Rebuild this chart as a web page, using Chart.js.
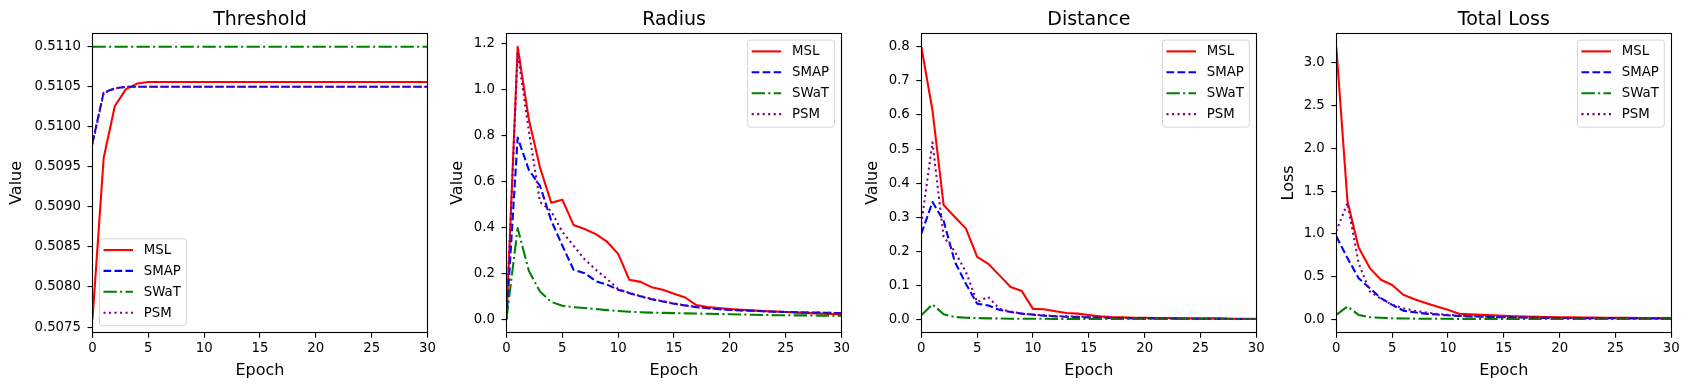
<!DOCTYPE html>
<html>
<head>
<meta charset="utf-8">
<script src="https://cdn.jsdelivr.net/npm/chart.js@4/dist/chart.umd.min.js"></script>
<style>
  body { margin: 0; background: #fff; }
  #wrap { position: relative; width: 1690px; height: 390px; overflow: hidden; }
  #wrap canvas { position: absolute; top: 0; }
</style>
</head>
<body>
<div id="wrap">
  <canvas id="c-threshold" width="440" height="390"></canvas>
  <canvas id="c-radius" width="440" height="390"></canvas>
  <canvas id="c-distance" width="440" height="390"></canvas>
  <canvas id="c-loss" width="440" height="390"></canvas>
</div>
<script>
// ---- data ----
var epochs = [0, 1, 2, 3, 4, 5, 6, 7, 8, 9, 10, 11, 12, 13, 14, 15, 16, 17, 18, 19, 20, 21, 22, 23, 24, 25, 26, 27, 28, 29, 30];
var seriesNames = ['MSL', 'SMAP', 'SWaT', 'PSM'];
var epochTicks = [0, 5, 10, 15, 20, 25, 30];

var thresholdMSL = [0.5076, 0.50961, 0.51026, 0.51047, 0.51054, 0.51056, 0.51056, 0.51056, 0.51056, 0.51056, 0.51056, 0.51056, 0.51056, 0.51056, 0.51056, 0.51056, 0.51056, 0.51056, 0.51056, 0.51056, 0.51056, 0.51056, 0.51056, 0.51056, 0.51056, 0.51056, 0.51056, 0.51056, 0.51056, 0.51056, 0.51056];
var thresholdSMAP = [0.5098, 0.51043, 0.51048, 0.5105, 0.5105, 0.5105, 0.5105, 0.5105, 0.5105, 0.5105, 0.5105, 0.5105, 0.5105, 0.5105, 0.5105, 0.5105, 0.5105, 0.5105, 0.5105, 0.5105, 0.5105, 0.5105, 0.5105, 0.5105, 0.5105, 0.5105, 0.5105, 0.5105, 0.5105, 0.5105, 0.5105];
var thresholdSWaT = [0.511, 0.511, 0.511, 0.511, 0.511, 0.511, 0.511, 0.511, 0.511, 0.511, 0.511, 0.511, 0.511, 0.511, 0.511, 0.511, 0.511, 0.511, 0.511, 0.511, 0.511, 0.511, 0.511, 0.511, 0.511, 0.511, 0.511, 0.511, 0.511, 0.511, 0.511];
var thresholdPSM = [0.50978, 0.51042, 0.51048, 0.5105, 0.5105, 0.5105, 0.5105, 0.5105, 0.5105, 0.5105, 0.5105, 0.5105, 0.5105, 0.5105, 0.5105, 0.5105, 0.5105, 0.5105, 0.5105, 0.5105, 0.5105, 0.5105, 0.5105, 0.5105, 0.5105, 0.5105, 0.5105, 0.5105, 0.5105, 0.5105, 0.5105];
var thresholdTicks = [0.5075, 0.5080, 0.5085, 0.5090, 0.5095, 0.5100, 0.5105, 0.5110];

var radiusMSL = [0.0, 1.186, 0.87, 0.66, 0.507, 0.52, 0.41, 0.392, 0.37, 0.337, 0.284, 0.171, 0.162, 0.139, 0.128, 0.11, 0.094, 0.061, 0.053, 0.048, 0.044, 0.041, 0.038, 0.035, 0.033, 0.031, 0.028, 0.026, 0.024, 0.022, 0.02];
var radiusSMAP = [0.0, 0.79, 0.65, 0.58, 0.43, 0.32, 0.215, 0.2, 0.165, 0.15, 0.128, 0.113, 0.099, 0.086, 0.077, 0.067, 0.059, 0.052, 0.047, 0.043, 0.04, 0.038, 0.036, 0.034, 0.032, 0.031, 0.03, 0.029, 0.028, 0.027, 0.026];
var radiusSWaT = [0.0, 0.396, 0.21, 0.12, 0.075, 0.058, 0.052, 0.048, 0.044, 0.039, 0.035, 0.032, 0.03, 0.028, 0.027, 0.026, 0.025, 0.024, 0.023, 0.022, 0.021, 0.02, 0.019, 0.018, 0.017, 0.017, 0.016, 0.016, 0.015, 0.015, 0.014];
var radiusPSM = [0.0, 1.16, 0.82, 0.51, 0.47, 0.38, 0.32, 0.26, 0.215, 0.175, 0.13, 0.115, 0.1, 0.088, 0.078, 0.068, 0.06, 0.053, 0.048, 0.044, 0.041, 0.038, 0.036, 0.034, 0.032, 0.031, 0.03, 0.029, 0.028, 0.027, 0.026];
var radiusTicks = [0.0, 0.2, 0.4, 0.6, 0.8, 1.0, 1.2];

var distanceMSL = [0.8, 0.614, 0.336, 0.301, 0.267, 0.184, 0.164, 0.13, 0.096, 0.084, 0.032, 0.031, 0.025, 0.02, 0.018, 0.014, 0.01, 0.008, 0.007, 0.006, 0.006, 0.005, 0.005, 0.005, 0.004, 0.004, 0.004, 0.004, 0.003, 0.003, 0.003];
var distanceSMAP = [0.252, 0.345, 0.29, 0.17, 0.105, 0.047, 0.042, 0.029, 0.023, 0.018, 0.015, 0.012, 0.01, 0.009, 0.008, 0.007, 0.006, 0.005, 0.005, 0.004, 0.004, 0.004, 0.003, 0.003, 0.003, 0.003, 0.003, 0.002, 0.002, 0.002, 0.002];
var distanceSWaT = [0.013, 0.045, 0.016, 0.008, 0.006, 0.005, 0.004, 0.004, 0.003, 0.003, 0.003, 0.003, 0.002, 0.002, 0.002, 0.002, 0.002, 0.002, 0.002, 0.002, 0.002, 0.002, 0.002, 0.002, 0.002, 0.002, 0.002, 0.002, 0.002, 0.002, 0.002];
var distancePSM = [0.28, 0.52, 0.243, 0.2, 0.14, 0.052, 0.067, 0.032, 0.024, 0.018, 0.015, 0.013, 0.011, 0.01, 0.009, 0.008, 0.007, 0.006, 0.005, 0.005, 0.004, 0.004, 0.004, 0.003, 0.003, 0.003, 0.003, 0.003, 0.002, 0.002, 0.002];
var distanceTicks = [0.0, 0.1, 0.2, 0.3, 0.4, 0.5, 0.6, 0.7, 0.8];

var lossMSL = [3.19, 1.38, 0.84, 0.598, 0.461, 0.4, 0.285, 0.234, 0.19, 0.148, 0.109, 0.0625, 0.056, 0.05, 0.045, 0.04, 0.035, 0.031, 0.028, 0.025, 0.023, 0.021, 0.02, 0.018, 0.017, 0.016, 0.015, 0.014, 0.013, 0.012, 0.012];
var lossSMAP = [0.97, 0.715, 0.48, 0.363, 0.246, 0.168, 0.1, 0.08, 0.065, 0.055, 0.045, 0.038, 0.033, 0.029, 0.025, 0.022, 0.02, 0.018, 0.016, 0.015, 0.014, 0.013, 0.012, 0.011, 0.01, 0.01, 0.009, 0.009, 0.008, 0.008, 0.008];
var lossSWaT = [0.05, 0.148, 0.05, 0.023, 0.016, 0.01, 0.008, 0.006, 0.005, 0.004, 0.004, 0.003, 0.003, 0.003, 0.002, 0.002, 0.002, 0.002, 0.002, 0.002, 0.002, 0.002, 0.002, 0.001, 0.001, 0.001, 0.001, 0.001, 0.001, 0.001, 0.001];
var lossPSM = [1.03, 1.36, 0.656, 0.324, 0.24, 0.168, 0.129, 0.098, 0.078, 0.0625, 0.05, 0.042, 0.036, 0.031, 0.027, 0.024, 0.021, 0.019, 0.017, 0.015, 0.014, 0.013, 0.012, 0.011, 0.01, 0.01, 0.009, 0.009, 0.008, 0.008, 0.008];
var lossTicks = [0.0, 0.5, 1.0, 1.5, 2.0, 2.5, 3.0];

// ---- styling ----
var FONT = '"DejaVu Sans", sans-serif';
var LW = 2.08; // 1.5pt at 100dpi
var lineStyles = [
    { color: '#ff0000', dash: [] },
    { color: '#0000ff', dash: [7.7, 3.3] },
    { color: '#008000', dash: [13.3, 3.3, 2.1, 3.3] },
    { color: '#800080', dash: [2.1, 3.4] }
];

Chart.defaults.font.family = FONT;
Chart.defaults.color = '#000';
Chart.defaults.animation = false;

function toPoints(arr) {
    return arr.map(function (v, i) { return { x: epochs[i], y: v }; });
}

// axes box + matplotlib style legend drawn over the plot
var frame = {
    id: 'frame',
    afterDatasetsDraw: function (chart, args, opts) {
        var ctx = chart.ctx, a = chart.chartArea;
        ctx.save();
        ctx.strokeStyle = '#000';
        ctx.lineWidth = 1.1;
        ctx.setLineDash([]);
        var l = Math.floor(a.left) + 0.5, t = Math.floor(a.top) + 0.5;
        var r = Math.floor(a.right) + 0.5, b = Math.floor(a.bottom) + 0.5;
        ctx.strokeRect(l, t, r - l, b - t);

        // legend
        var fs = 13.3;
        ctx.font = fs + 'px ' + FONT;
        var sets = chart.data.datasets;
        var tw = 0;
        sets.forEach(function (d) { tw = Math.max(tw, ctx.measureText(d.label).width); });
        var w = 4 + 29.5 + 10.8 + tw + 5.5, h = 87;
        var x, y;
        if (opts.corner === 'lower left') {
            x = a.left + 7; y = a.bottom - 7 - h;
        } else {
            x = a.right - 7 - w; y = a.top + 7;
        }
        var rad = 2.8;
        ctx.beginPath();
        ctx.moveTo(x + rad, y);
        ctx.arcTo(x + w, y, x + w, y + h, rad);
        ctx.arcTo(x + w, y + h, x, y + h, rad);
        ctx.arcTo(x, y + h, x, y, rad);
        ctx.arcTo(x, y, x + w, y, rad);
        ctx.closePath();
        ctx.fillStyle = 'rgba(255,255,255,0.8)';
        ctx.fill();
        ctx.strokeStyle = 'rgba(204,204,204,0.8)';
        ctx.lineWidth = 1;
        ctx.stroke();

        ctx.textBaseline = 'middle';
        ctx.textAlign = 'left';
        sets.forEach(function (d, i) {
            var cy = y + 11.3 + i * 20.9;
            ctx.beginPath();
            ctx.setLineDash(d.borderDash || []);
            ctx.lineCap = 'butt';
            ctx.lineWidth = d.borderWidth;
            ctx.strokeStyle = d.borderColor;
            ctx.moveTo(x + 4, cy);
            ctx.lineTo(x + 4 + 29.5, cy);
            ctx.stroke();
            ctx.setLineDash([]);
            ctx.fillStyle = '#000';
            ctx.fillText(d.label, x + 4 + 29.5 + 10.8, cy + 0.5);
        });
        ctx.restore();
    }
};

function makePanel(id, p) {
    var all = [].concat.apply([], p.series);
    var lo = Math.min.apply(null, all), hi = Math.max.apply(null, all);
    var m = (hi - lo) * 0.05;

    var cv = document.getElementById(id);
    cv.style.left = p.left + 'px';

    var datasets = p.series.map(function (s, i) {
        return {
            label: seriesNames[i],
            data: toPoints(s),
            borderColor: lineStyles[i].color,
            borderDash: lineStyles[i].dash,
            borderWidth: LW,
            borderJoinStyle: 'round',
            pointRadius: 0,
            tension: 0,
            fill: false,
            order: seriesNames.length - i // later series drawn on top, like matplotlib
        };
    });

    return new Chart(cv.getContext('2d'), {
        type: 'line',
        data: { datasets: datasets },
        plugins: [frame],
        options: {
            responsive: false,
            devicePixelRatio: 1,
            layout: { padding: { left: 0, top: 0, bottom: 0, right: 440 - p.yw - 335 } },
            plugins: {
                legend: { display: false },
                tooltip: { enabled: false },
                title: {
                    display: true,
                    text: p.title,
                    fullSize: false,
                    color: '#000',
                    font: { size: 19, weight: 'normal' },
                    padding: { top: 9, bottom: 1.3 }
                },
                frame: { corner: p.legend }
            },
            scales: {
                x: {
                    type: 'linear',
                    min: 0,
                    max: 30,
                    afterBuildTicks: function (s) { s.ticks = epochTicks.map(function (v) { return { value: v }; }); },
                    afterFit: function (s) { s.height = 57.3; },
                    border: { display: false },
                    grid: { drawOnChartArea: false, drawTicks: true, tickLength: 5, color: '#000', lineWidth: 1.1 },
                    ticks: { font: { size: 13.3 }, color: '#000', padding: 2.5, maxRotation: 0, autoSkip: false },
                    title: { display: true, text: 'Epoch', font: { size: 16 }, color: '#000', padding: { top: 0, bottom: 9.4 } }
                },
                y: {
                    type: 'linear',
                    min: lo - m,
                    max: hi + m,
                    afterBuildTicks: function (s) { s.ticks = p.ticks.map(function (v) { return { value: v }; }); },
                    afterFit: function (s) { s.width = p.yw; },
                    border: { display: false },
                    grid: { drawOnChartArea: false, drawTicks: true, tickLength: 5, color: '#000', lineWidth: 1.1 },
                    ticks: {
                        font: { size: 13.3 }, color: '#000', padding: 6.5, autoSkip: false,
                        callback: function (v) { return Number(v).toFixed(p.digits); }
                    },
                    title: { display: true, text: p.ylabel, font: { size: 16 }, color: '#000', padding: { top: 2.4, bottom: 0 } }
                }
            }
        }
    });
}

makePanel('c-threshold', {
    title: 'Threshold', ylabel: 'Value', left: 5, yw: 87.5, digits: 4, legend: 'lower left',
    ticks: thresholdTicks, series: [thresholdMSL, thresholdSMAP, thresholdSWaT, thresholdPSM]
});
makePanel('c-radius', {
    title: 'Radius', ylabel: 'Value', left: 446, yw: 60.5, digits: 1, legend: 'upper right',
    ticks: radiusTicks, series: [radiusMSL, radiusSMAP, radiusSWaT, radiusPSM]
});
makePanel('c-distance', {
    title: 'Distance', ylabel: 'Value', left: 861, yw: 60.3, digits: 1, legend: 'upper right',
    ticks: distanceTicks, series: [distanceMSL, distanceSMAP, distanceSWaT, distancePSM]
});
makePanel('c-loss', {
    title: 'Total Loss', ylabel: 'Loss', left: 1277, yw: 59.3, digits: 1, legend: 'upper right',
    ticks: lossTicks, series: [lossMSL, lossSMAP, lossSWaT, lossPSM]
});
</script>
</body>
</html>
